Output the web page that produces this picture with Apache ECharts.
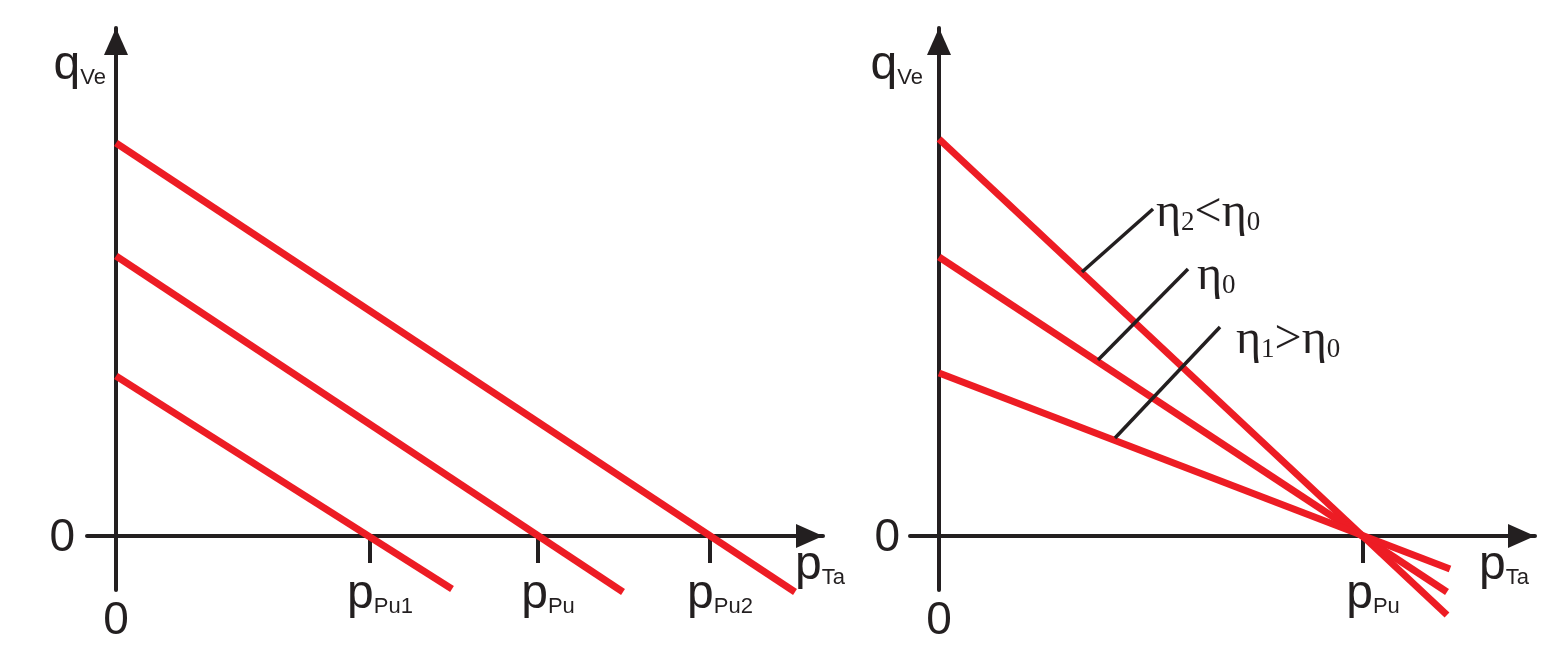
<!DOCTYPE html>
<html><head><meta charset="utf-8">
<script src="https://cdn.jsdelivr.net/npm/echarts@6/dist/echarts.min.js"></script>
<style>html,body{margin:0;padding:0;background:#fff}#c{width:1560px;height:651px}</style>
</head><body><div id="c"></div>
<script>
// ---------- data (schematic units) ----------
// Left panel: parallel pump characteristics
const leftTickValues = [2.54, 4.22, 5.94];
const leftTickLabels = ['Pu1', 'Pu', 'Pu2'];
const leftLineTop = [[0, 3.93], [6.79, -0.56]];
const leftLineMid = [[0, 2.80], [5.07, -0.56]];
const leftLineLow = [[0, 1.60], [3.36, -0.53]];
// Right panel: characteristics with different efficiency
const rightTickValues = [4.24];
const rightTickLabels = ['Pu'];
const rightLineEta2 = [[0, 3.97], [5.08, -0.79]];
const rightLineEta0 = [[0, 2.79], [5.08, -0.56]];
const rightLineEta1 = [[0, 1.63], [5.11, -0.33]];
const leaderEta2 = [[1.43, 2.64], [2.14, 3.27]];
const leaderEta0 = [[1.59, 1.76], [2.49, 2.67]];
const leaderEta1 = [[1.76, 0.98], [2.81, 2.09]];
const etaLabels = ['{e|η}{s|2}{e|<η}{s|0}', '{e|η}{s|0}', '{e|η}{s|1}{e|>η}{s|0}'];
const axisNameX = '{m|p}{s|Ta}';
const axisNameY = '{m|q}{s|Ve}';
const originLabel = '0';

// ---------- styles ----------
const INK = '#231f20';
const RED = '#ed1c24';
const SANS = 'Liberation Sans';
const SERIF = 'Liberation Serif';
const richSans = {
  m: {fontFamily: SANS, fontSize: 48, color: INK, lineHeight: 64},
  mp: {fontFamily: SANS, fontSize: 48, color: INK, lineHeight: 64, padding: [0, 0, 0, 20]},
  s: {fontFamily: SANS, fontSize: 22, color: INK, lineHeight: 22, padding: [24, 0, 0, 0]},
  z: {fontFamily: SANS, fontSize: 46, color: INK, lineHeight: 64, padding: [53, 0, 0, 0]},
  y0: {fontFamily: SANS, fontSize: 46, color: INK, lineHeight: 64, padding: [4, 0, 0, 0]}
};
const richSerif = {
  e: {fontFamily: SERIF, fontSize: 48, color: INK, lineHeight: 62},
  s: {fontFamily: SERIF, fontSize: 27, color: INK, lineHeight: 27, padding: [20, 0, 0, 0]}
};

function xAxisFor(gridIndex, min, max, tickValues, tickLabels, nameGap) {
  return {
    type: 'value', gridIndex, min, max,
    axisLine: {show: true, onZero: true, lineStyle: {color: INK, width: 4},
      symbol: ['none', 'triangle'], symbolSize: [24, 27], symbolOffset: [0, -13.5]},
    axisTick: {show: true, customValues: tickValues, length: 27, lineStyle: {color: INK, width: 4}},
    axisLabel: {show: true, customValues: [0].concat(tickValues), margin: -27, rich: richSans,
      formatter: (v) => v === 0 ? '{z|' + originLabel + '}' : '{mp|p}{s|' + tickLabels[tickValues.indexOf(v)] + '}'},
    splitLine: {show: false},
    name: axisNameX, nameLocation: 'end', nameGap,
    nameTextStyle: {align: 'left', verticalAlign: 'middle', padding: [60, 0, 0, 0], rich: richSans}
  };
}
function yAxisFor(gridIndex, namePadRight, labelMargin) {
  return {
    type: 'value', gridIndex, min: -0.54, max: 5.08,
    axisLine: {show: true, onZero: true, lineStyle: {color: INK, width: 4},
      symbol: ['none', 'triangle'], symbolSize: [24, 27], symbolOffset: [0, -13.5]},
    axisTick: {show: false},
    axisLabel: {show: true, customValues: [0], margin: labelMargin, rich: richSans,
      formatter: () => '{y0|' + originLabel + '}'},
    splitLine: {show: false},
    name: axisNameY, nameLocation: 'end', nameGap: -38,
    nameTextStyle: {align: 'right', verticalAlign: 'middle', padding: [0, namePadRight, 0, 0], rich: richSans}
  };
}
function redLine(data, xi) {
  return {type: 'line', xAxisIndex: xi, yAxisIndex: xi, data, symbol: 'none', clip: false,
    lineStyle: {color: RED, width: 7, cap: 'butt'}, silent: true, z: 3};
}
function leader(data, label, distance, dy) {
  return {type: 'line', xAxisIndex: 1, yAxisIndex: 1, data, symbol: 'none', clip: false,
    lineStyle: {color: INK, width: 3.5}, silent: true, z: 4,
    endLabel: {show: true, formatter: () => label, distance, offset: [0, dy], rich: richSerif}};
}

const chart = echarts.init(document.getElementById('c'), null, {renderer: 'canvas'});
chart.setOption({
  animation: false,
  backgroundColor: '#ffffff',
  grid: [
    {left: 87, top: 28, width: 736, height: 562, outerBoundsMode: 'none', containLabel: false},
    {left: 910, top: 28, width: 625, height: 562, outerBoundsMode: 'none', containLabel: false}
  ],
  xAxis: [
    xAxisFor(0, -0.29, 7.07, leftTickValues, leftTickLabels, -28),
    xAxisFor(1, -0.29, 5.96, rightTickValues, rightTickLabels, -56)
  ],
  yAxis: [yAxisFor(0, 10, 12), yAxisFor(1, 16, 10)],
  series: [
    redLine(leftLineTop, 0), redLine(leftLineMid, 0), redLine(leftLineLow, 0),
    redLine(rightLineEta2, 1), redLine(rightLineEta0, 1), redLine(rightLineEta1, 1),
    leader(leaderEta2, etaLabels[0], 3, 4),
    leader(leaderEta0, etaLabels[1], 9, 7),
    leader(leaderEta1, etaLabels[2], 16, 13)
  ]
});
</script></body></html>
